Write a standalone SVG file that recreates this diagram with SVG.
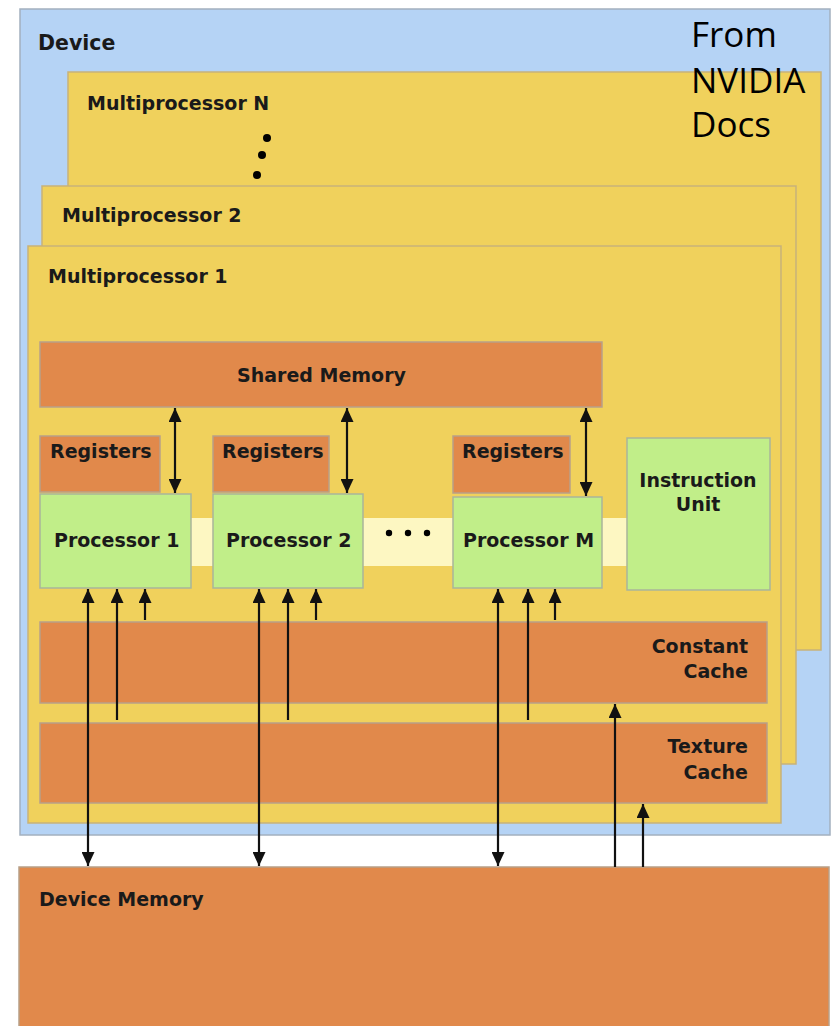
<svg xmlns="http://www.w3.org/2000/svg" width="837" height="1026" viewBox="0 0 837 1026">
  <defs>
    <marker id="head" viewBox="0 0 14 13" refX="14" refY="6.5" markerWidth="14" markerHeight="13" markerUnits="userSpaceOnUse" orient="auto-start-reverse">
      <path d="M0,0 L14,6.5 L0,13 z" fill="#111"/>
    </marker>
    <style>
      .blue { fill: #b5d3f5; stroke: #a3b0bf; stroke-width: 1.5; }
      .yellow { fill: #f0d15c; stroke: #c7b27a; stroke-width: 1.5; }
      .orange { fill: #e1894b; stroke: #b8a088; stroke-width: 1.5; }
      .green { fill: #c1ee89; stroke: #a9b59a; stroke-width: 1.5; }
      .strip { fill: #fdf7c2; }
      .lbl { font-family: "DejaVu Sans", Verdana, sans-serif; font-weight: bold; font-size: 19px; fill: #1a1a1a; }
      .big { font-size: 20.5px; }
      .note { font-family: "Open Sans", Lato, sans-serif; font-size: 35px; fill: #000; }
      .wire { stroke: #111; stroke-width: 2.2; fill: none; }
    </style>
  </defs>

  <rect width="837" height="1026" fill="#ffffff"/>

  <!-- device frame -->
  <g id="device">
    <rect class="blue" x="20" y="9" width="810" height="826"/>
    <text class="lbl big" x="38" y="50">Device</text>
  </g>

  <!-- stacked multiprocessors -->
  <g id="mp-n">
    <rect class="yellow" x="68" y="72" width="753" height="578"/>
    <text class="lbl" x="87" y="110">Multiprocessor N</text>
    <circle cx="267" cy="138" r="4" fill="#000"/>
    <circle cx="262" cy="155" r="4" fill="#000"/>
    <circle cx="257" cy="175" r="4" fill="#000"/>
  </g>

  <g id="mp-2">
    <rect class="yellow" x="42" y="186" width="754" height="578"/>
    <text class="lbl" x="62" y="222">Multiprocessor 2</text>
  </g>

  <g id="mp-1">
    <rect class="yellow" x="28" y="246" width="753" height="577"/>
    <text class="lbl" x="48" y="283">Multiprocessor 1</text>
  </g>

  <!-- processor interconnect strip -->
  <g id="proc-strip">
    <rect class="strip" x="190" y="518" width="438" height="48"/>
    <circle cx="389" cy="533" r="3.2" fill="#000"/>
    <circle cx="408" cy="533" r="3.2" fill="#000"/>
    <circle cx="427" cy="533" r="3.2" fill="#000"/>
  </g>

  <g id="shared-memory">
    <rect class="orange" x="40" y="342" width="562" height="65"/>
    <text class="lbl" x="237" y="382">Shared Memory</text>
  </g>

  <g id="registers-1">
    <rect class="orange" x="40" y="436" width="120" height="56"/>
    <text class="lbl" x="50" y="458">Registers</text>
  </g>
  <g id="registers-2">
    <rect class="orange" x="213" y="436" width="116" height="56"/>
    <text class="lbl" x="222" y="458">Registers</text>
  </g>
  <g id="registers-m">
    <rect class="orange" x="453" y="436" width="117" height="57"/>
    <text class="lbl" x="462" y="458">Registers</text>
  </g>

  <g id="processor-1">
    <rect class="green" x="40" y="494" width="151" height="94"/>
    <text class="lbl" x="54" y="547">Processor 1</text>
  </g>
  <g id="processor-2">
    <rect class="green" x="213" y="494" width="150" height="94"/>
    <text class="lbl" x="226" y="547">Processor 2</text>
  </g>
  <g id="processor-m">
    <rect class="green" x="453" y="497" width="149" height="91"/>
    <text class="lbl" x="463" y="547">Processor M</text>
  </g>

  <g id="instruction-unit">
    <rect class="green" x="627" y="438" width="143" height="152"/>
    <text class="lbl" x="698" y="487" text-anchor="middle">Instruction</text>
    <text class="lbl" x="698" y="511" text-anchor="middle">Unit</text>
  </g>

  <g id="constant-cache">
    <rect class="orange" x="40" y="622" width="727" height="81"/>
    <text class="lbl" x="748" y="653" text-anchor="end">Constant</text>
    <text class="lbl" x="748" y="678" text-anchor="end">Cache</text>
  </g>

  <g id="texture-cache">
    <rect class="orange" x="40" y="723" width="727" height="80"/>
    <text class="lbl" x="748" y="753" text-anchor="end">Texture</text>
    <text class="lbl" x="748" y="779" text-anchor="end">Cache</text>
  </g>

  <g id="device-memory">
    <rect class="orange" x="19" y="867" width="810" height="170"/>
    <text class="lbl" x="39" y="906">Device Memory</text>
  </g>

  <!-- connectors -->
  <g id="connectors">
    <!-- shared memory <-> processors -->
    <line class="wire" x1="175" y1="408" x2="175" y2="493" marker-start="url(#head)" marker-end="url(#head)"/>
    <line class="wire" x1="347" y1="408" x2="347" y2="493" marker-start="url(#head)" marker-end="url(#head)"/>
    <line class="wire" x1="586" y1="408" x2="586" y2="496" marker-start="url(#head)" marker-end="url(#head)"/>

    <!-- processor 1 -->
    <line class="wire" x1="88" y1="589" x2="88" y2="866" marker-start="url(#head)" marker-end="url(#head)"/>
    <line class="wire" x1="117" y1="720" x2="117" y2="589" marker-end="url(#head)"/>
    <line class="wire" x1="145" y1="620" x2="145" y2="589" marker-end="url(#head)"/>

    <!-- processor 2 -->
    <line class="wire" x1="259" y1="589" x2="259" y2="866" marker-start="url(#head)" marker-end="url(#head)"/>
    <line class="wire" x1="288" y1="720" x2="288" y2="589" marker-end="url(#head)"/>
    <line class="wire" x1="316" y1="620" x2="316" y2="589" marker-end="url(#head)"/>

    <!-- processor M -->
    <line class="wire" x1="498" y1="589" x2="498" y2="866" marker-start="url(#head)" marker-end="url(#head)"/>
    <line class="wire" x1="528" y1="720" x2="528" y2="589" marker-end="url(#head)"/>
    <line class="wire" x1="555" y1="620" x2="555" y2="589" marker-end="url(#head)"/>

    <!-- device memory -> caches -->
    <line class="wire" x1="615" y1="867" x2="615" y2="704" marker-end="url(#head)"/>
    <line class="wire" x1="643" y1="867" x2="643" y2="804" marker-end="url(#head)"/>
  </g>

  <!-- source note, drawn on top of the stack -->
  <g id="note">
    <text class="note" x="691" y="47">From</text>
    <text class="note" x="691" y="93">NVIDIA</text>
    <text class="note" x="691" y="137">Docs</text>
  </g>
</svg>
